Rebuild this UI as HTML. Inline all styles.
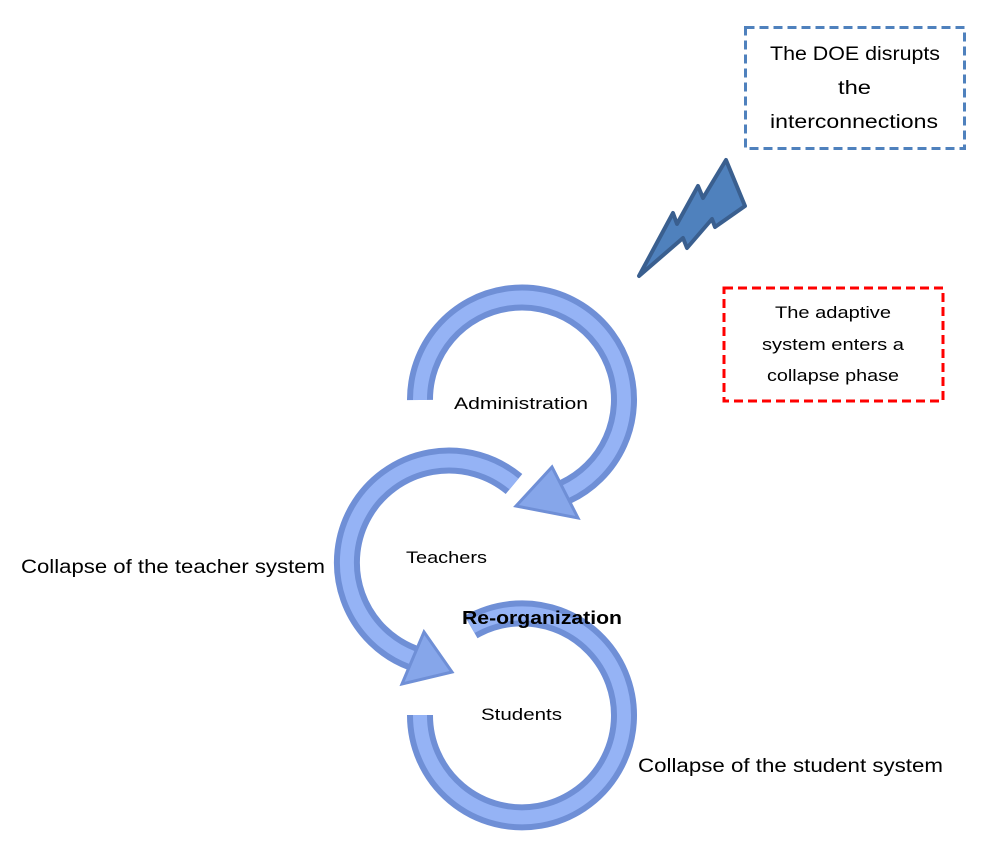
<!DOCTYPE html>
<html><head><meta charset="utf-8"><style>
html,body{margin:0;padding:0;background:#fff;}
svg{display:block;}
text{font-family:"Liberation Sans",sans-serif;fill:#000;}
</style></head><body>
<svg width="987" height="856" viewBox="0 0 987 856" xmlns="http://www.w3.org/2000/svg">
<rect x="745.5" y="27.5" width="219" height="121" fill="#fff" stroke="#4f81bd" stroke-width="3" stroke-dasharray="9,5"/>
<text x="770" y="60" font-size="19" textLength="170" lengthAdjust="spacingAndGlyphs">The DOE disrupts</text>
<text x="838" y="94" font-size="19" textLength="33" lengthAdjust="spacingAndGlyphs">the</text>
<text x="770" y="128" font-size="19" textLength="168" lengthAdjust="spacingAndGlyphs">interconnections</text>
<rect x="724" y="288" width="219" height="113" fill="#fff" stroke="#ff0000" stroke-width="3" stroke-dasharray="9,5"/>
<text x="775" y="318" font-size="17" textLength="116" lengthAdjust="spacingAndGlyphs">The adaptive</text>
<text x="762" y="350" font-size="17" textLength="142" lengthAdjust="spacingAndGlyphs">system enters a</text>
<text x="767" y="381" font-size="17" textLength="132" lengthAdjust="spacingAndGlyphs">collapse phase</text>
<polygon points="639,276 673,213 677,224 698,186 703,198 726,160 745,206 715,227 712,219 687,248 683,238" fill="#4f81bd" stroke="#3a5f8f" stroke-width="4" stroke-linejoin="round"/>
<g fill="none" stroke="#6f8fd6" stroke-width="26">
<path d="M420,400 A102,102 0 1 1 565,492"/>
<path d="M514,484 A102,102 0 1 0 413,658"/>
<path d="M471,627 A102,102 0 1 1 420,715"/>
</g>
<g fill="none" stroke="#95b3f5" stroke-width="14">
<path d="M420,400 A102,102 0 1 1 565,492"/>
<path d="M514,484 A102,102 0 1 0 413,658"/>
<path d="M471,627 A102,102 0 1 1 420,715"/>
</g>
<polygon points="578,518 552,467 516,506" fill="#86a6ea" stroke="#6f8fd6" stroke-width="3"/>
<polygon points="402,684 424,632 452,672" fill="#86a6ea" stroke="#6f8fd6" stroke-width="3"/>
<text x="454" y="409" font-size="17" textLength="134" lengthAdjust="spacingAndGlyphs">Administration</text>
<text x="406" y="563" font-size="17" textLength="81" lengthAdjust="spacingAndGlyphs">Teachers</text>
<text x="481" y="720" font-size="17" textLength="81" lengthAdjust="spacingAndGlyphs">Students</text>
<text x="462" y="624" font-size="18" font-weight="bold" textLength="160" lengthAdjust="spacingAndGlyphs">Re-organization</text>
<text x="21" y="573" font-size="19" textLength="304" lengthAdjust="spacingAndGlyphs">Collapse of the teacher system</text>
<text x="638" y="772" font-size="19" textLength="305" lengthAdjust="spacingAndGlyphs">Collapse of the student system</text>
</svg>
</body></html>
